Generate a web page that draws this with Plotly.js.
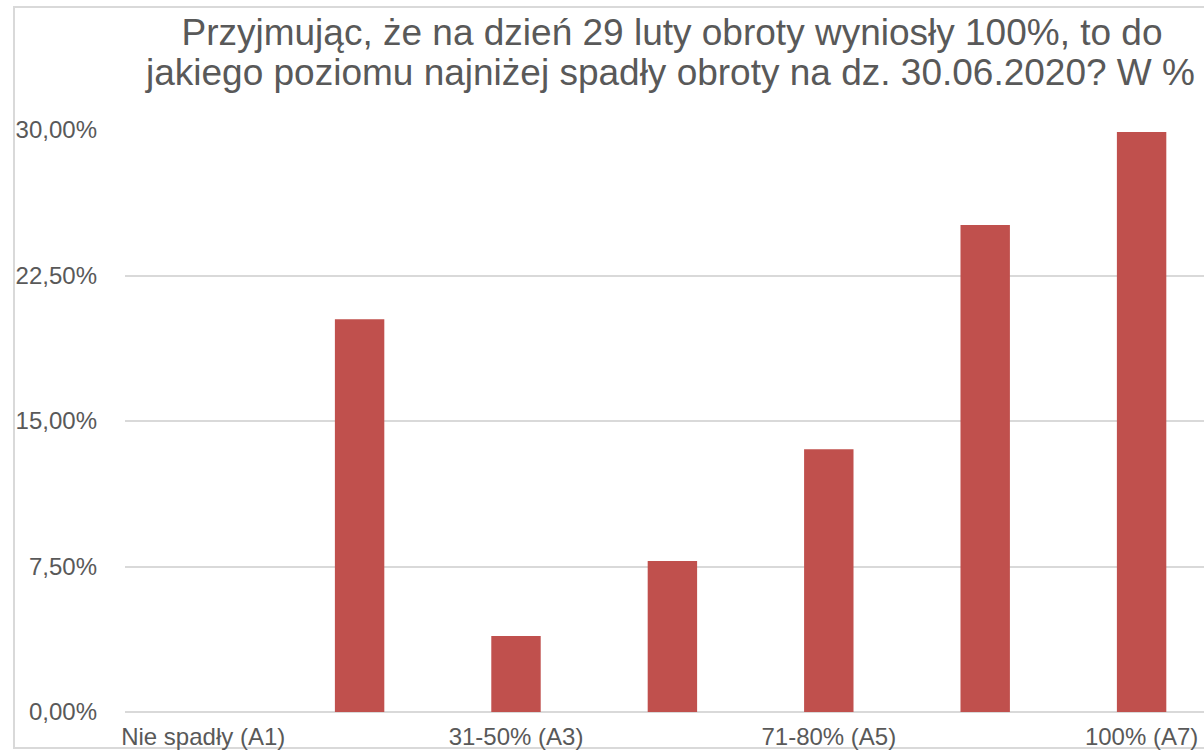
<!DOCTYPE html>
<html>
<head>
<meta charset="utf-8">
<script src="https://cdn.plot.ly/plotly-3.0.1.min.js"></script>
<style>
html,body{margin:0;padding:0;background:#fff;overflow:hidden;}
#chart{width:1204px;height:750px;}
</style>
</head>
<body>
<div id="chart"></div>
<script>
const categories = ["Nie spadły (A1)", "1-30% (A2)", "31-50% (A3)", "51-70% (A4)", "71-80% (A5)", "81-99% (A6)", "100% (A7)"];
const values = [0, 20.25, 3.92, 7.78, 13.55, 25.1, 29.9];
const shownCategories = [categories[0], categories[2], categories[4], categories[6]];
const yTickValues = [0, 7.5, 15, 22.5, 30];
const yTickLabels = ["0,00%", "7,50%", "15,00%", "22,50%", "30,00%"];
const titleLines = [
  "Przyjmując, że na dzień 29 luty obroty wyniosły 100%, to do",
  "jakiego poziomu najniżej spadły obroty na dz. 30.06.2020? W %"
];

const font = "'Liberation Sans', Arial, Helvetica, sans-serif";
const textColor = "#595959";
const gridColor = "#d9d9d9";

const trace = {
  type: "bar",
  x: categories,
  y: values,
  width: 0.316,
  marker: {color: "#c0504d"},
  hoverinfo: "x+y"
};

const L = 125, R = 0, T = 130, B = 38, W = 1204, H = 750;
const pw = W - L - R, ph = H - T - B;
const titleSize = 37;

const layout = {
  width: W,
  height: H,
  margin: {l: L, r: R, t: T, b: B, pad: 0},
  paper_bgcolor: "#ffffff",
  plot_bgcolor: "#ffffff",
  showlegend: false,
  font: {family: font, color: textColor, size: 24},
  title: {
    text: titleLines[0],
    font: {family: font, size: titleSize, color: textColor},
    xref: "container",
    x: 672 / W,
    xanchor: "center",
    yref: "container",
    y: 1 - 32 / H,
    yanchor: "middle"
  },
  annotations: [
    {
      text: titleLines[1],
      font: {family: font, size: titleSize, color: textColor},
      xref: "paper", yref: "paper",
      x: (670 - L) / pw,
      y: 1 - (73 - T) / ph,
      xanchor: "center",
      yanchor: "middle",
      showarrow: false
    }
  ],
  xaxis: {
    type: "category",
    range: [-0.5, 6.399],
    tickmode: "array",
    tickvals: shownCategories,
    ticktext: shownCategories,
    showgrid: false,
    zeroline: false,
    showline: false,
    ticks: "",
    tickfont: {family: font, size: 24, color: textColor},
    ticklabelstandoff: 8,
    fixedrange: true
  },
  yaxis: {
    range: [0, 30],
    tickmode: "array",
    tickvals: yTickValues,
    ticktext: yTickLabels,
    showgrid: true,
    gridcolor: gridColor,
    gridwidth: 2,
    zeroline: true,
    zerolinecolor: gridColor,
    zerolinewidth: 2,
    showline: false,
    ticks: "",
    tickfont: {family: font, size: 24, color: textColor},
    ticklabelstandoff: 27,
    fixedrange: true
  },
  shapes: [
    {
      type: "rect",
      xref: "paper", yref: "paper",
      x0: (14 - L) / pw, x1: (W + 20 - L) / pw,
      y0: (T + ph - 748) / ph, y1: (T + ph - 7) / ph,
      line: {color: gridColor, width: 2},
      fillcolor: "rgba(0,0,0,0)",
      layer: "below"
    }
  ],
  bargap: 0.684
};

Plotly.newPlot("chart", [trace], layout, {displayModeBar: false, staticPlot: true});
</script>
</body>
</html>
